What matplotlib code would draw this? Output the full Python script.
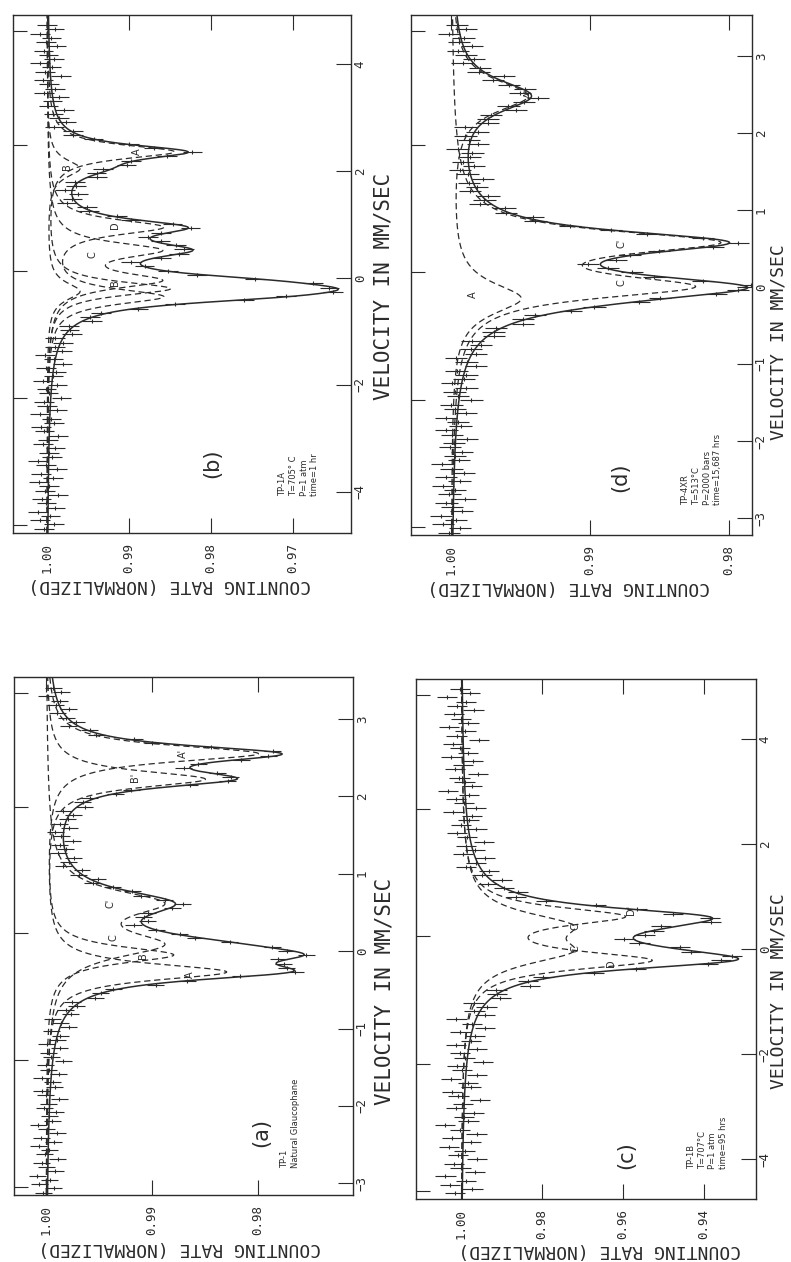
import numpy as np
import matplotlib
matplotlib.use("Agg")
import matplotlib.pyplot as plt

INK = "#2b2b2b"
MONO = "DejaVu Sans Mono"
W, H = 791, 1262

# ---------------- data: panel (a) TP-1 natural glaucophane ----------------
a_centers = [(2.55, -0.27), (2.22, -0.05), (0.62, 0.08)]
a_depths = [(0.020, 0.017), (0.015, 0.012), (0.010, 0.010)]
a_fwhm = [0.26, 0.26, 0.40]
a_resid = [4, -6, 8, -2, 10, -7, 1, 6, -9, 3, -1, 9, -5, 7, -8, 2, 10, -3, 0, -6,
           5, 1, -9, 4, 8, -4, -2, 9, -7, 3, 6, -10, 2, 5, -5, 8, -1, -3, 7, -8,
           1, 11, -4, 4, -2, 8, -6, 0, 5, -9, 2, 7, -4, 1, -7, 9, -2, 5, -8, 3,
           6, -5, -1, 10, -6, 2, 8, -3, -7, 4, 9, -2, 0, 6, -8, 3, -5, 9, 1, -6,
           7, -1, 4, -9, 2, 8, -5, 5, -1, -4, 9, -7, 2, 6, -2, 10, -5, 0, 3, -9,
           6, 1, -6, 8, -3, 2, 7, -10, 5, -2, 9, -4, 1, 6, -7, 3, -2, 9, -6, 1]
a_rate_ticks = [1.00, 0.99, 0.98]
a_vel_ticks = [-3, -2, -1, 0, 1, 2, 3]
a_info = "TP-1\nNatural Glaucophane"
a_letters = ["A'", "B'", "C'", "C", "B", "A"]
a_letter_rate = [0.98708, 0.99160, 0.99396, 0.99368, 0.99085, 0.98642]
a_letter_vel = [2.55, 2.25, 0.61, 0.17, -0.06, -0.30]

# ---------------- data: panel (b) TP-1A ----------------
b_centers = [(2.36, -0.20), (2.05, -0.25), (0.52, -0.05), (0.95, -0.35)]
b_depths = [(0.0155, 0.0150), (0.004, 0.004), (0.013, 0.013), (0.014, 0.014)]
b_fwhm = [0.32, 0.40, 0.35, 0.35]
b_resid = [5, -7, 10, -3, 12, -9, 2, 8, -12, 4, -1, 11, -6, 9, -10, 3, 13, -4, 0, -8,
           7, 1, -11, 6, 10, -5, -2, 12, -9, 4, 8, -13, 3, 6, -7, 11, -1, -4, 9, -10,
           2, 14, -6, 5, -3, 10, -8, 0, 7, -12, 3, 9, -5, 1, -9, 12, -2, 6, -11, 4,
           8, -6, -1, 13, -7, 2, 10, -4, -9, 5, 11, -3, 0, 7, -10, 4, -6, 12, 1, -8,
           9, -2, 5, -12, 3, 10, -7, 6, -1, -5, 11, -9, 2, 8, -3, 13, -6, 0, 4, -11,
           7, 1, -8, 10, -4, 3, 9, -13, 6, -2, 12, -5, 1, 7, -9, 4, -3, 11, -7, 2]
b_rate_ticks = [1.00, 0.99, 0.98, 0.97]
b_vel_ticks = [-4, -2, 0, 2, 4]
b_info = "TP-1A\nT=705° C\nP=1 atm\ntime=1 hr"
b_letters = ["A", "B", "D", "C", "B"]
b_letter_rate = [0.98902, 0.99756, 0.99171, 0.99451, 0.99171]
b_letter_vel = [2.37, 2.09, 0.99, 0.43, -0.09]

# ---------------- data: panel (c) TP-1B ----------------
c_centers = [(0.62, -0.22), (0.45, -0.05)]
c_depths = [(0.038, 0.045), (0.022, 0.022)]
c_fwhm = [0.42, 0.60]
c_resid = [18, -25, 30, -8, 42, -31, 5, 22, -36, 12, -4, 34, -19, 27, -33, 9, 45, -12, 0, -24,
           20, 3, -38, 15, 31, -14, -6, 36, -28, 11, 24, -40, 7, 19, -21, 33, -3, -11, 28, -30,
           6, 48, -17, 14, -9, 32, -23, 1, 21, -35, 8, 26, -15, 4, -27, 37, -7, 18, -32, 12,
           23, -18, -2, 40, -22, 6, 30, -10, -26, 15, 35, -8, 0, 20, -29, 11, -16, 34, 3, -24,
           27, -5, 14, -33, 7, 29, -20, 17, -3, -13, 32, -25, 5, 24, -9, 41, -18, 0, 12, -34,
           22, 2, -23, 30, -11, 9, 26, -39, 16, -6, 35, -14, 4, 21, -27, 13, -8, 38, -19, 6]
c_rate_ticks = [1.00, 0.98, 0.96, 0.94]
c_vel_ticks = [-4, -2, 0, 2, 4]
c_info = "TP-1B\nT=707°C\nP=1 atm\ntime=95 hrs"
c_letters = ["D'", "C'", "C", "D"]
c_letter_rate = [0.95802, 0.97160, 0.97160, 0.96296]
c_letter_vel = [0.74, 0.44, 0.00, -0.27]

# ---------------- data: panel (d) TP-4XR ----------------
d_centers = [(2.48, -0.15), (0.58, 0.00)]
d_depths = [(0.0055, 0.005), (0.018, 0.016)]
d_fwhm = [0.50, 0.36]
d_resid = [3, -5, 7, -2, 9, -6, 1, 5, -8, 3, -1, 8, -4, 6, -7, 2, 9, -3, 0, -5,
           4, 1, -8, 3, 7, -3, -1, 8, -6, 2, 5, -9, 1, 4, -4, 7, -1, -2, 6, -7,
           1, 10, -3, 3, -2, 7, -5, 0, 4, -8, 2, 6, -3, 1, -6, 8, -2, 4, -7, 2,
           5, -4, -1, 9, -5, 1, 7, -2, -6, 3, 8, -2, 0, 5, -7, 2, -4, 8, 1, -5,
           6, -1, 3, -8, 2, 7, -4, 4, -1, -3, 8, -6, 1, 5, -2, 9, -4, 0, 3, -8,
           5, 1, -5, 7, -2, 2, 6, -9, 4, -1, 8, -3, 1, 5, -6, 2, -2, 8, -5, 1]
d_rate_ticks = [1.00, 0.99, 0.98]
d_vel_ticks = [-3, -2, -1, 0, 1, 2, 3]
d_info = "TP-4XR\nT=513°C\nP=2000 bars\ntime=15,687 hrs"
d_letters = ["A'", "C'", "C", "A"]
d_letter_rate = [0.99439, 0.98777, 0.98777, 0.99842]
d_letter_vel = [2.51, 0.56, 0.05, -0.10]

# frame-edge marks on the left side, as fractions of the axis height
edge_mark_fracs = [0.015, 0.26, 0.505, 0.75, 0.97]


def lorentz(v, c, d, w):
    return d / (1.0 + ((v - c) / (w / 2.0)) ** 2)


def doublet(v, cpair, dpair, w):
    return lorentz(v, cpair[0], dpair[0], w) + lorentz(v, cpair[1], dpair[1], w)


fig = plt.figure(figsize=(W / 100, H / 100), dpi=100)
fig.patch.set_facecolor("white")


def draw_panel(spec):
    x0, y0, x1, y1 = spec["rect"]
    ax = fig.add_axes([x0 / W, 1 - y1 / H, (x1 - x0) / W, (y1 - y0) / H])
    ax.set_xlim(*spec["xlim"])
    ax.set_ylim(*spec["ylim"])

    vv = np.linspace(spec["ylim"][0], spec["ylim"][1], 2000)
    comps = [doublet(vv, c, d, w) for c, d, w in
             zip(spec["centers"], spec["depths"], spec["fwhm"])]
    for comp in comps:
        ax.plot(1 - comp, vv, ls=(0, (5, 3)), lw=0.9, color=INK)
    ax.plot(1 - sum(comps), vv, lw=1.1, color=INK)

    vd = np.linspace(spec["vspan"][0], spec["vspan"][1], len(spec["resid"]))
    model = sum(doublet(vd, c, d, w) for c, d, w in
                zip(spec["centers"], spec["depths"], spec["fwhm"]))
    rd = 1 - model + np.asarray(spec["resid"]) * 1e-4
    ax.errorbar(rd, vd, xerr=spec["err"], fmt="none", ecolor=INK,
                elinewidth=0.8, capsize=0)
    ax.plot(rd, vd, ls="none", marker="|", ms=3, mew=0.8, color=INK)

    # rate axis (image horizontal)
    ax.set_xticks(spec["rate_ticks"])
    ax.set_xticklabels([f"{t:.2f}" for t in spec["rate_ticks"]], rotation=90,
                       fontfamily=MONO, fontsize=9, color=INK)
    ax.tick_params(axis="x", direction="in", top=True, bottom=True,
                   length=11, width=0.8, pad=7, color=INK)
    # velocity axis (image vertical, on the right)
    ax.yaxis.tick_right()
    ax.set_yticks(spec["vel_ticks"])
    ax.set_yticklabels([f"{t:d}".replace("-", "\u2212") for t in spec["vel_ticks"]],
                       rotation=90, fontfamily=MONO, fontsize=9, color=INK,
                       va="center")
    ax.tick_params(axis="y", direction="in", left=False, right=True,
                   length=11, width=0.8, pad=2, color=INK)
    lo, hi = spec["ylim"]
    sec = ax.secondary_yaxis("left")
    sec.set_yticks([lo + f * (hi - lo) for f in edge_mark_fracs])
    sec.set_yticklabels([])
    sec.tick_params(direction="in", length=10, width=0.8, color=INK)
    sec.spines["left"].set_visible(False)
    for sp in ax.spines.values():
        sp.set_linewidth(1.0)
        sp.set_color(INK)

    ax.text(spec["vlab"][0], spec["vlab"][1], "VELOCITY IN MM/SEC",
            transform=ax.transAxes, rotation=90, ha="center", va="center",
            fontsize=spec["vlab_size"], fontfamily=MONO, color=INK)
    ax.text(spec["clab"][0], spec["clab"][1], "COUNTING RATE (NORMALIZED)",
            transform=ax.transAxes, rotation=180, ha="center", va="center",
            fontsize=13, fontfamily=MONO, color=INK)
    ax.text(spec["tag_pos"][0], spec["tag_pos"][1], spec["tag"], rotation=90,
            ha="center", va="center", fontsize=15, color=INK)
    ax.text(spec["info_pos"][0], spec["info_pos"][1], spec["info"], rotation=90,
            rotation_mode="anchor", ha="left", va="top", fontsize=6,
            linespacing=1.25, color=INK)
    for lab, r, v in zip(spec["letters"], spec["letter_rate"], spec["letter_vel"]):
        ax.text(r, v, lab, rotation=90, ha="center", va="center", fontsize=7,
                color=INK)


panels = [
    dict(rect=(13, 15, 351, 533), xlim=(1.00415, 0.96293), ylim=(-4.77, 4.92),
         centers=b_centers, depths=b_depths, fwhm=b_fwhm, resid=b_resid,
         vspan=(-4.69, 4.73), err=0.0012, rate_ticks=b_rate_ticks,
         vel_ticks=b_vel_ticks, tag="(b)", tag_pos=(0.9798, -3.46),
         info=b_info, info_pos=(0.97183, -4.07), letters=b_letters,
         letter_rate=b_letter_rate, letter_vel=b_letter_vel,
         vlab=(1.095, 0.477), vlab_size=15, clab=(0.464, -0.100)),
    dict(rect=(411, 15, 752, 535), xlim=(1.00288, 0.97835), ylim=(-3.22, 3.53),
         centers=d_centers, depths=d_depths, fwhm=d_fwhm, resid=d_resid,
         vspan=(-3.19, 3.40), err=0.0008, rate_ticks=d_rate_ticks,
         vel_ticks=d_vel_ticks, tag="(d)", tag_pos=(0.98784, -2.47),
         info=d_info, info_pos=(0.98345, -2.83), letters=d_letters,
         letter_rate=d_letter_rate, letter_vel=d_letter_vel,
         vlab=(1.077, 0.37), vlab_size=13, clab=(0.463, -0.100)),
    dict(rect=(14, 677, 353, 1195), xlim=(1.00302, 0.97104), ylim=(-3.15, 3.54),
         centers=a_centers, depths=a_depths, fwhm=a_fwhm, resid=a_resid,
         vspan=(-3.12, 3.40), err=0.0008, rate_ticks=a_rate_ticks,
         vel_ticks=a_vel_ticks, tag="(a)", tag_pos=(0.97972, -2.34),
         info=a_info, info_pos=(0.97792, -2.80), letters=a_letters,
         letter_rate=a_letter_rate, letter_vel=a_letter_vel,
         vlab=(1.093, 0.394), vlab_size=15, clab=(0.490, -0.102)),
    dict(rect=(416, 679, 756, 1199), xlim=(1.0111, 0.92716), ylim=(-4.76, 5.14),
         centers=c_centers, depths=c_depths, fwhm=c_fwhm, resid=c_resid,
         vspan=(-4.65, 4.95), err=0.0025, rate_ticks=c_rate_ticks,
         vel_ticks=c_vel_ticks, tag="(c)", tag_pos=(0.95926, -3.92),
         info=c_info, info_pos=(0.94420, -4.19), letters=c_letters,
         letter_rate=c_letter_rate, letter_vel=c_letter_vel,
         vlab=(1.066, 0.40), vlab_size=13, clab=(0.541, -0.098)),
]

for spec in panels:
    draw_panel(spec)

fig.savefig("out.png", dpi=100, facecolor="white")
